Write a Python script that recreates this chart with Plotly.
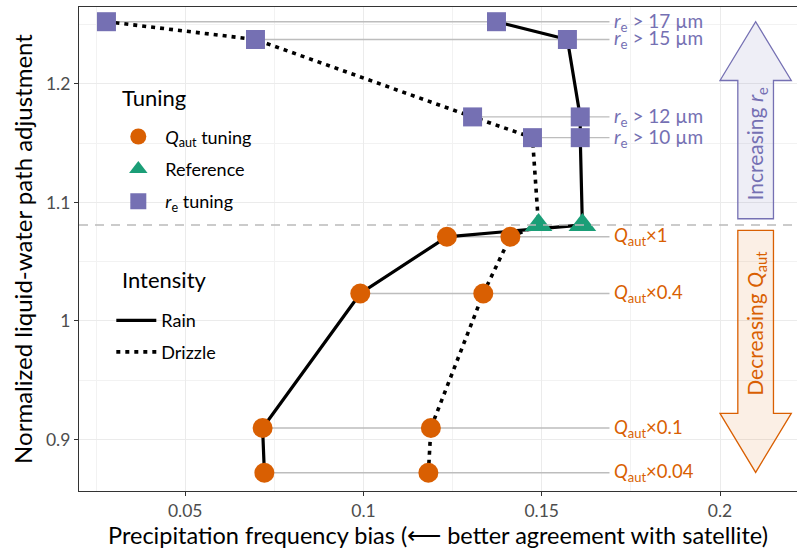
import plotly.graph_objects as go

# ---------------- data ----------------
levels = ["re>17", "re>15", "re>12", "re>10", "Reference",
          "Qaut x1", "Qaut x0.4", "Qaut x0.1", "Qaut x0.04"]
kind = ["re", "re", "re", "re", "ref", "qaut", "qaut", "qaut", "qaut"]
lwp = [1.2524, 1.2374, 1.1721, 1.1546, 1.081, 1.0710, 1.0232, 0.9097, 0.8720]
rain = [0.1373, 0.1572, 0.1608, 0.1608, 0.1614, 0.1234, 0.0991, 0.0717, 0.0722]
drizzle = [0.0279, 0.0697, 0.1306, 0.1474, 0.1491, 0.1412, 0.1336, 0.1189, 0.1182]
level_labels = [
    "<i>r</i><sub>e</sub> &gt; 17 µm",
    "<i>r</i><sub>e</sub> &gt; 15 µm",
    "<i>r</i><sub>e</sub> &gt; 12 µm",
    "<i>r</i><sub>e</sub> &gt; 10 µm",
    "",
    "<i>Q</i><sub>aut</sub>×1",
    "<i>Q</i><sub>aut</sub>×0.4",
    "<i>Q</i><sub>aut</sub>×0.1",
    "<i>Q</i><sub>aut</sub>×0.04",
]
x_ticks = [0.05, 0.1, 0.15, 0.2]
x_ticktext = ["0.05", "0.1", "0.15", "0.2"]
y_ticks = [0.9, 1.0, 1.1, 1.2]
y_ticktext = ["0.9", "1", "1.1", "1.2"]
x_minor = [0.025, 0.075, 0.125, 0.175, 0.225]
y_minor = [0.85, 0.95, 1.05, 1.15, 1.25]

# ---------------- style ----------------
FONT = "Lato"
ORANGE = "#D95F02"
GREEN = "#1B9E77"
PURPLE = "#7570B3"
LABEL_X = 0.1690
X_RANGE = [0.0202, 0.2216]
Y_RANGE = [0.8566, 1.2648]

fig = go.Figure()

# gray connector lines from leftmost point to label
gx, gy = [], []
for k, y, r, d in zip(kind, lwp, rain, drizzle):
    if k == "ref":
        continue
    gx += [min(r, d), LABEL_X, None]
    gy += [y, y, None]
fig.add_trace(go.Scatter(x=gx, y=gy, mode="lines",
                         line=dict(color="#BDBDBD", width=1.4),
                         showlegend=False, hoverinfo="skip"))

# intensity lines
fig.add_trace(go.Scatter(x=rain, y=lwp, mode="lines", name="Rain",
                         line=dict(color="black", width=3.2),
                         legend="legend2", legendgroup="rain"))
fig.add_trace(go.Scatter(x=drizzle, y=lwp, mode="lines", name="Drizzle",
                         line=dict(color="black", width=3.6, dash="4px,5px"),
                         legend="legend2", legendgroup="drizzle"))

# markers by tuning
def pts(sel):
    xs, ys = [], []
    for k, y, r, d in zip(kind, lwp, rain, drizzle):
        if k == sel:
            xs += [r, d]
            ys += [y, y]
    return xs, ys

qx, qy = pts("qaut")
fig.add_trace(go.Scatter(x=qx, y=qy, mode="markers",
                         name="<i>Q</i><sub>aut</sub> tuning",
                         marker=dict(symbol="circle", size=20, color=ORANGE),
                         legend="legend", legendgroup="q"))
fx, fy = pts("ref")
fig.add_trace(go.Scatter(x=fx, y=fy, mode="markers", name="Reference",
                         marker=dict(symbol="triangle-up", size=24, color=GREEN),
                         legend="legend", legendgroup="ref"))
rx, ry = pts("re")
fig.add_trace(go.Scatter(x=rx, y=ry, mode="markers",
                         name="<i>r</i><sub>e</sub> tuning",
                         marker=dict(symbol="square", size=19, color=PURPLE),
                         legend="legend", legendgroup="re"))

# level labels
for k, y, lab in zip(kind, lwp, level_labels):
    if not lab:
        continue
    fig.add_annotation(x=LABEL_X + 0.0006, y=y, text=lab, showarrow=False,
                       xanchor="left", yanchor="middle",
                       font=dict(family=FONT, size=19 if k == "re" else 18.5,
                                 color=PURPLE if k == "re" else ORANGE))

# reference dashed line
fig.add_shape(type="line", xref="paper", x0=0, x1=1, yref="y",
              y0=lwp[4], y1=lwp[4],
              line=dict(color="#BBBBBB", width=1.4, dash="9px,7px"))

# arrows
up = ("M 0.205,1.0862 L 0.205,1.2028 L 0.2,1.2028 L 0.21,1.2524 "
      "L 0.22,1.2028 L 0.215,1.2028 L 0.215,1.0862 Z")
down = ("M 0.205,1.0764 L 0.205,0.9221 L 0.2,0.9221 L 0.21,0.8723 "
        "L 0.22,0.9221 L 0.215,0.9221 L 0.215,1.0764 Z")
fig.add_shape(type="path", path=up, xref="x", yref="y",
              fillcolor="rgba(117,112,179,0.12)",
              line=dict(color=PURPLE, width=1.3))
fig.add_shape(type="path", path=down, xref="x", yref="y",
              fillcolor="rgba(217,95,2,0.10)",
              line=dict(color=ORANGE, width=1.3))
fig.add_annotation(x=0.2102, y=1.150, text="Increasing <i>r</i><sub>e</sub>",
                   textangle=-90, showarrow=False,
                   font=dict(family=FONT, size=21, color=PURPLE))
fig.add_annotation(x=0.2102, y=0.998, text="Decreasing <i>Q</i><sub>aut</sub>",
                   textangle=-90, showarrow=False,
                   font=dict(family=FONT, size=21, color=ORANGE))

# legend titles
fig.add_annotation(xref="paper", yref="paper", x=0.0577, y=0.814,
                   text="Tuning", showarrow=False, xanchor="left",
                   yanchor="middle", font=dict(family=FONT, size=22))
fig.add_annotation(xref="paper", yref="paper", x=0.0577, y=0.436,
                   text="Intensity", showarrow=False, xanchor="left",
                   yanchor="middle", font=dict(family=FONT, size=22))

axis_common = dict(
    showline=True, linecolor="#333333", linewidth=1.2,
    ticks="outside", ticklen=4, tickcolor="#333333", tickwidth=1,
    showgrid=True, gridcolor="#EBEBEB", gridwidth=1.2,
    zeroline=False, automargin=False,
    tickfont=dict(family=FONT, size=17.5, color="#4D4D4D"),
)

fig.update_layout(
    width=797, height=555,
    margin=dict(l=79, r=0, t=7, b=64, autoexpand=False),
    paper_bgcolor="white", plot_bgcolor="white",
    font=dict(family=FONT, color="black"),
    xaxis=dict(**axis_common, range=X_RANGE, tickvals=x_ticks,
               ticktext=x_ticktext, mirror=True,
               minor=dict(tickvals=x_minor, showgrid=True,
                          gridcolor="#F2F2F2", gridwidth=1, ticklen=0),
               title=dict(text="Precipitation frequency bias (⟵ better agreement with satellite)",
                          font=dict(family=FONT, size=23.5), standoff=6)),
    yaxis=dict(**axis_common, range=Y_RANGE, tickvals=y_ticks,
               ticktext=y_ticktext,
               minor=dict(tickvals=y_minor, showgrid=True,
                          gridcolor="#F2F2F2", gridwidth=1, ticklen=0),
               title=dict(text="Normalized liquid-water path adjustment",
                          font=dict(family=FONT, size=24), standoff=6)),
    legend=dict(x=0.045, y=0.770, xanchor="left", yanchor="top",
                bgcolor="rgba(0,0,0,0)", tracegroupgap=6, itemwidth=44,
                font=dict(family=FONT, size=18), itemsizing="trace"),
    legend2=dict(x=0.045, y=0.390, xanchor="left", yanchor="top",
                 bgcolor="rgba(0,0,0,0)", tracegroupgap=5, itemwidth=40,
                 font=dict(family=FONT, size=18)),
)

fig.write_html("out.html", config={"displayModeBar": False},
               post_script="document.body.style.margin='0px';")
